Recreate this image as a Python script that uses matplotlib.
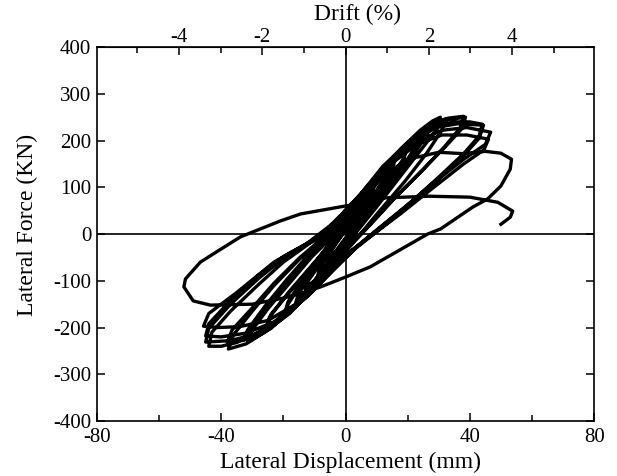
import matplotlib
matplotlib.use("Agg")
import matplotlib.pyplot as plt
from matplotlib.ticker import MultipleLocator, FixedLocator

plt.rcParams['font.family'] = ['Liberation Serif', 'DejaVu Serif']
plt.rcParams['axes.unicode_minus'] = False

# ---- data (displacement mm, force kN) ----
disp_small = [0, 3, 6, 5.5, 3, 0, -3, -6, -5.5, -3, 0,
              3, 6, 9, 8.5, 5, 1, -3, -6, -9, -8.5, -5, -1, 0,
              3, 7, 11, 12.5, 11.5, 8, 4, 0, -4, -8, -12, -13, -12, -8, -4, 0,
              3, 7, 11, 12.5, 11.5, 8, 4, 0, -4, -8, -12, -13, -12, -8, -4, 0,
              4, 8, 12, 15, 14, 10, 5, 1, -3, -8, -12, -15.5, -14.5, -10, -5, -1, 0,
              4, 8, 12, 16, 15, 11, 6, 2, -3, -8, -13, -16, -15, -11, -6, -2, 0]
force_small = [0, 30, 62, 50, 22, -8, -35, -58, -46, -20, 8,
               35, 68, 98, 82, 40, -2, -38, -68, -92, -76, -38, 0, 12,
               38, 80, 118, 128, 110, 72, 28, -15, -50, -88, -112, -118, -100, -62, -22, 12,
               42, 84, 120, 126, 106, 68, 25, -18, -54, -90, -110, -115, -96, -58, -18, 15,
               50, 92, 128, 152, 130, 88, 35, -5, -40, -88, -118, -140, -120, -78, -30, 5, 18,
               55, 96, 132, 160, 138, 92, 40, 0, -45, -92, -126, -146, -126, -84, -36, 2, 20]

disp_mid = [4, 9, 14, 18, 19.5, 18.5, 14, 8, 3, -2, -8, -13, -17, -19.5, -18.5, -14, -8, -3, 0,
            4, 9, 14, 18, 19.5, 18.5, 14, 8, 3, -2, -8, -13, -17, -19.5, -18.5, -14, -8, -3, 0,
            5, 10, 16, 21, 25, 24, 19, 12, 6, 2, -3, -9, -15, -21, -25.5, -24.5, -19, -12, -6, -2, 0,
            5, 10, 16, 21, 24, 23, 18, 11, 5, 1, -4, -10, -16, -22, -25, -24, -18, -11, -5, -1, 0,
            5, 11, 17, 23, 27, 26, 21, 14, 7, 2, -3, -10, -17, -24, -30, -31.5, -30, -25, -18, -11, -5, 0]
force_mid = [52, 105, 148, 175, 182, 160, 115, 55, 5, -40, -95, -135, -160, -172, -150, -105, -50, -5, 22,
             55, 108, 150, 172, 178, 155, 110, 50, 2, -42, -97, -137, -158, -168, -145, -100, -45, 0, 25,
             68, 118, 165, 200, 222, 198, 148, 88, 35, 0, -40, -95, -145, -183, -200, -178, -132, -78, -30, 5, 28,
             72, 122, 168, 200, 215, 192, 140, 80, 28, -5, -45, -100, -150, -186, -196, -172, -122, -68, -22, 10, 30,
             70, 125, 172, 212, 235, 210, 162, 100, 40, 0, -40, -100, -158, -202, -225, -231, -205, -160, -105, -50, -10, 35]

disp_large = [6, 12, 18, 24, 28, 30.5, 29.5, 24, 17, 10, 4, 0, -6, -12, -18, -24, -29, -31.5, -30, -25, -18, -11, -5, 0,
              6, 12, 18, 24, 29, 32, 31, 26, 19, 11, 5, 0, -6, -13, -20, -26, -31, -33, -31.5, -26, -19, -12, -6, 0,
              6, 12, 20, 27, 33, 38, 37, 32, 25, 16, 8, 3, -3, -10, -18, -26, -32, -37.7, -36, -30, -23, -15, -8, -2, 0,
              6, 13, 20, 27, 33, 38.6, 37.5, 32, 24, 15, 7, 2, -4, -11, -19, -27, -33, -38, -36.5, -30, -23, -15, -8, -2, 0,
              6, 13, 20, 28, 35, 40, 44, 43, 38, 30, 20, 10, 4, -3, -11, -20, -28, -35, -40, -44, -43, -37, -28, -20, -12, -5, 0,
              6, 14, 22, 29, 36, 44.4, 43, 38, 30, 20, 10, 3, -4, -12, -21, -29, -37, -45, -44, -37, -28, -20, -12, -5, 0,
              7, 15, 23, 31, 39, 46.7, 45, 38, 28, 18, 9, 2, -5, -14, -23, -32, -40, -45, -44, -37, -28, -20, -11, -4, 0,
              7, 15, 23, 31, 39, 46, 44.5, 38, 28, 18, 9, 1, -7, -16, -25, -34, -41, -45.7, -44, -35, -23, -15, -9, -4, 0]
force_large = [90, 142, 184, 222, 242, 250, 225, 178, 118, 58, 8, -25, -78, -128, -168, -200, -220, -226, -200, -155, -100, -45, -5, 40,
               88, 140, 182, 218, 240, 246, 222, 172, 112, 50, 2, -30, -82, -135, -175, -205, -222, -228, -205, -155, -98, -45, -5, 38,
               95, 145, 195, 232, 248, 252, 228, 188, 138, 78, 20, -15, -60, -115, -170, -210, -235, -246, -215, -165, -110, -55, -15, 25, 42,
               92, 148, 190, 228, 245, 250, 226, 186, 132, 72, 15, -20, -68, -120, -172, -207, -225, -231, -205, -158, -105, -52, -12, 28, 45,
               92, 148, 192, 230, 240, 240, 235, 210, 172, 122, 62, 8, -25, -70, -125, -178, -212, -232, -240, -240, -210, -165, -108, -60, -22, 15, 48,
               95, 152, 198, 228, 236, 233, 205, 168, 118, 58, 5, -32, -78, -132, -183, -214, -228, -231, -202, -150, -95, -52, -18, 18, 50,
               100, 155, 198, 222, 228, 218, 192, 160, 108, 52, 3, -35, -82, -140, -188, -212, -220, -218, -192, -142, -88, -48, -15, 20, 52,
               100, 152, 192, 212, 212, 203, 180, 150, 98, 45, 0, -40, -92, -150, -185, -198, -200, -197, -170, -125, -60, -30, -11, 20, 50]

disp_final = [10, 20, 30, 38, 45, 50, 53.4, 53, 50, 45.7, 41, 30.6, 26.4, 8, 0, -8, -15, -20, -30, -43.5, -49, -52,
              -51.5, -46.7, -41, -33.8, -21, -14.5, 1.6, 11, 27, 40, 49, 53.8, 53, 50]
force_final = [115, 160, 175, 172, 177, 173, 160, 139, 103, 75, 58, 11, 0, -70, -92, -113, -128, -137, -150, -152, -143, -113,
               -96, -60, -36, -6, 28, 43, 62, 77, 81, 79, 68, 49, 36, 21]

x_ticks = [-80, -40, 0, 40, 80]
y_ticks = [-400, -300, -200, -100, 0, 100, 200, 300, 400]
drift_ticks = [-4, -2, 0, 2, 4]
drift_minor = [-5, -3, -1, 1, 3, 5]
mm_per_percent = 13.4

fig = plt.figure(figsize=(6.17, 4.76), dpi=100)
ax = fig.add_axes([0.157, 0.1155, 0.806, 0.7855])

disp = disp_small + disp_mid + disp_large + disp_final
force = force_small + force_mid + force_large + force_final
ax.plot(disp, force, color='black', lw=2.4, solid_joinstyle='round')

ax.axhline(0, color='black', lw=1.2)
ax.axvline(0, color='black', lw=1.2)

ax.set_xlim(-80, 80)
ax.set_ylim(-400, 400)
ax.set_xticks(x_ticks)
ax.set_yticks(y_ticks)
ax.xaxis.set_minor_locator(MultipleLocator(20))
ax.tick_params(axis='both', which='both', direction='in', labelsize=15,
               right=True, width=1.1)
ax.tick_params(which='major', length=6)
ax.tick_params(which='minor', length=4)
ax.tick_params(axis='x', pad=5)
ax.tick_params(axis='y', pad=4)
for s in ax.spines.values():
    s.set_linewidth(1.2)

sec = ax.secondary_xaxis('top', functions=(lambda x: x / mm_per_percent,
                                            lambda d: d * mm_per_percent))
sec.set_xticks(drift_ticks)
sec.xaxis.set_minor_locator(FixedLocator(drift_minor))
sec.tick_params(which='both', direction='in', labelsize=15, pad=0, width=1.1)
sec.tick_params(which='major', length=6)
sec.tick_params(which='minor', length=4)

fig.text(357 / 617, 1 - 14 / 476, 'Drift (%)', fontsize=17, ha='center', va='center')
fig.text(350 / 617, 1 - 462 / 476, 'Lateral Displacement (mm)', fontsize=17, ha='center', va='center')
fig.text(27 / 617, 1 - 225 / 476, 'Lateral Force (KN)', fontsize=17, ha='center', va='center', rotation=90)

fig.savefig('out.png', dpi=100)
